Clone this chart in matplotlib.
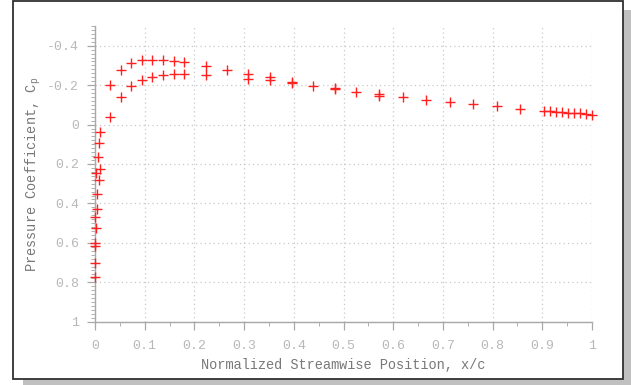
import matplotlib
matplotlib.use("Agg")
import matplotlib.pyplot as plt
from matplotlib.patches import Rectangle
from matplotlib.ticker import MultipleLocator, FormatStrFormatter, FixedLocator

plt.rcParams['font.family'] = ['Liberation Mono', 'DejaVu Sans Mono']
plt.rcParams['mathtext.default'] = 'regular'
plt.rcParams['axes.unicode_minus'] = False

# Upper (suction) surface
x_upper = [0.000, 0.000, 0.001, 0.005, 0.003, 0.007, 0.010, 0.030, 0.052, 0.072, 0.094,
           0.115, 0.136, 0.158, 0.179, 0.223, 0.266, 0.308, 0.352, 0.396, 0.438,
           0.482, 0.525, 0.572, 0.620, 0.667, 0.714, 0.761, 0.809, 0.855,
           0.903, 0.915, 0.928, 0.940, 0.952, 0.964, 0.976, 0.988, 1.000]
cp_upper = [0.771, 0.600, 0.467, 0.350, 0.245, 0.164, 0.037, -0.203, -0.278, -0.312, -0.326,
            -0.327, -0.326, -0.320, -0.315, -0.299, -0.275, -0.258, -0.241, -0.216, -0.197,
            -0.185, -0.167, -0.157, -0.138, -0.127, -0.112, -0.102, -0.092, -0.080,
            -0.069, -0.067, -0.065, -0.063, -0.061, -0.059, -0.057, -0.054, -0.050]

# Lower (pressure) surface
x_lower = [0.000, 0.001, 0.002, 0.005, 0.008, 0.011, 0.008, 0.030, 0.052, 0.072, 0.094,
           0.115, 0.136, 0.158, 0.179, 0.223, 0.308, 0.352, 0.396,
           0.482, 0.572]
cp_lower = [0.704, 0.616, 0.523, 0.430, 0.282, 0.224, 0.093, -0.039, -0.142, -0.194, -0.228,
            -0.240, -0.250, -0.257, -0.258, -0.253, -0.233, -0.228, -0.209,
            -0.178, -0.147]

x_ticks = [0, 0.1, 0.2, 0.3, 0.4, 0.5, 0.6, 0.7, 0.8, 0.9, 1.0]
y_ticks = [-0.4, -0.2, 0, 0.2, 0.4, 0.6, 0.8, 1.0]

W, H = 631, 385
fig = plt.figure(figsize=(W / 100, H / 100), dpi=100)
fig.patch.set_facecolor('white')

# shadow and frame
fig.patches.append(Rectangle((23 / W, 0), (W - 23) / W, 6 / H, transform=fig.transFigure,
                             facecolor='#c0c0c0', edgecolor='none', zorder=-3))
fig.patches.append(Rectangle((623 / W, 0), 8 / W, (H - 10) / H, transform=fig.transFigure,
                             facecolor='#c0c0c0', edgecolor='none', zorder=-3))
fig.patches.append(Rectangle((12.5 / W, 6 / H), 610.5 / W, (H - 7) / H, transform=fig.transFigure,
                             facecolor='white', edgecolor='#303030', lw=1.3, zorder=-2))

ax = fig.add_axes([95 / W, (H - 321.7) / H, (592 - 95) / W, (321.7 - 26) / H])
ax.set_facecolor('none')

ax.plot(x_upper, cp_upper, linestyle='none', marker='+', color='#ff2020',
        markersize=7.5, markeredgewidth=1.0, clip_on=False, zorder=3)
ax.plot(x_lower, cp_lower, linestyle='none', marker='+', color='#ff2020',
        markersize=7.5, markeredgewidth=1.0, clip_on=False, zorder=3)

ax.set_xlim(0, 1)
ax.set_ylim(1, -0.5)
ax.xaxis.set_major_locator(FixedLocator(x_ticks))
ax.yaxis.set_major_locator(FixedLocator(y_ticks))
ax.xaxis.set_minor_locator(MultipleLocator(0.05))
ax.yaxis.set_minor_locator(MultipleLocator(0.02))
ax.xaxis.set_major_formatter(FormatStrFormatter('%g'))
ax.yaxis.set_major_formatter(FormatStrFormatter('%g'))

for s in ['top', 'right']:
    ax.spines[s].set_visible(False)
for s in ['left', 'bottom']:
    ax.spines[s].set_color('#a8a8a8')
    ax.spines[s].set_linewidth(1.0)

ax.grid(True, which='major', linestyle=(0, (1, 2.5)), color='#c8c8c8', linewidth=0.9)
ax.tick_params(which='major', direction='out', length=5.5, width=0.9, color='#a8a8a8',
               labelcolor='#b8b8b8', labelsize=9.5, pad=6)
ax.tick_params(which='minor', direction='out', length=3, width=0.7, color='#b0b0b0')
ax.tick_params(axis='x', which='major', pad=8)

ax.set_xlabel('Normalized Streamwise Position, x/c', fontsize=9.8, color='#787878', labelpad=4)
ax.set_ylabel('Pressure Coefficient, C$_p$', fontsize=9.8, color='#787878', labelpad=3)

fig.savefig('out.png', dpi=100)
